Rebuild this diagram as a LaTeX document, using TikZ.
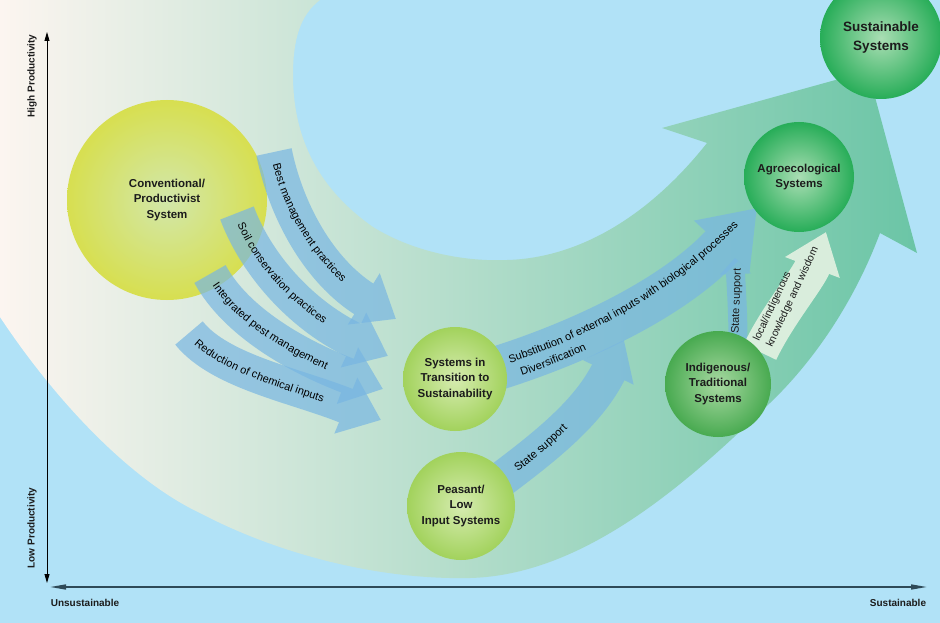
\documentclass[tikz,border=0pt]{standalone}
\usepackage{fontspec}
\setmainfont{Liberation Sans}
\usetikzlibrary{arrows.meta,decorations.text}
\definecolor{bgblue}{HTML}{B1E2F7}
\definecolor{bandL}{HTML}{FCF5F0}
\definecolor{bandM}{HTML}{DDE9DF}
\definecolor{bandR}{HTML}{6BC5A6}
\definecolor{flowblue}{HTML}{78B6E2}
\definecolor{paleflow}{HTML}{EAF4E5}
\definecolor{convO}{HTML}{D7DF50}
\definecolor{convI}{HTML}{D2E7AA}
\definecolor{lgO}{HTML}{A2D25C}
\definecolor{lgI}{HTML}{D6ECB0}
\definecolor{indO}{HTML}{48AA50}
\definecolor{indI}{HTML}{A8D9A2}
\definecolor{agO}{HTML}{27AD58}
\definecolor{agI}{HTML}{AADEB4}
\definecolor{txt}{HTML}{1C1C1C}
\definecolor{axisc}{HTML}{2E4A58}
\newcommand{\labfont}{\fontsize{11}{13}\selectfont}
\begin{document}
\begin{tikzpicture}[x=1pt,y=1pt,
  circ/.style={circle, inner sep=0pt, align=center, text=txt,
    font=\bfseries\fontsize{11.5}{15.5}\selectfont},
  flow/.style={draw=flowblue, line width=36pt, -{Triangle[length=38pt,width=58pt]}},
  axl/.style={inner sep=0pt, text=txt, font=\bfseries\fontsize{10}{12}\selectfont},
  lab/.style={inner sep=0pt, text=txt, font=\labfont}]
\useasboundingbox (0,0) rectangle (940,-623);
\clip (0,0) rectangle (940,-623);
\fill[bgblue] (0,0) rectangle (940,-623);
% big sweeping band
\shade[left color=bandL, middle color=bandM, right color=bandR]
 (0,0) -- (320,0)
 .. controls (300,-15) and (293,-40) .. (293,-75)
 .. controls (293,-140) and (320,-190) .. (373,-227)
 .. controls (410,-250) and (460,-262) .. (507,-260)
 .. controls (580,-258) and (650,-215) .. (707,-143)
 -- (662,-128) -- (868,-71) -- (917,-253) -- (880,-233)
 .. controls (855,-300) and (815,-360) .. (770,-403)
 .. controls (698,-472) and (590,-575) .. (470,-578)
 .. controls (380,-580) and (280,-555) .. (200,-513)
 .. controls (130,-480) and (55,-400) .. (0,-317) -- cycle;
% conventional system
\node[circ, minimum size=200pt, inner color=convI, outer color=convO] (conv) at (167,-200) {Conventional/\\Productivist\\System};
% coordinates of flows
\coordinate (bmS) at (274,-152); \coordinate (bmT) at (396,-319);
\coordinate (scS) at (237,-213); \coordinate (scT) at (388,-356);
\coordinate (ipS) at (210,-274); \coordinate (ipT) at (383,-389);
\coordinate (rcS) at (189,-333); \coordinate (rcT) at (381,-420);
\coordinate (subS) at (498,-368); \coordinate (subT) at (757,-208);
\coordinate (pssS) at (498,-482); \coordinate (pssT) at (624,-340);
\coordinate (issS) at (738,-342); \coordinate (issT) at (735,-258);
\coordinate (lkS) at (760,-352); \coordinate (lkT) at (826,-232);
% four practice arrows
\begin{scope}[opacity=0.7]\begin{scope}[transparency group]
\draw[flow] (bmS) .. controls (286,-211) and (319,-271) .. (bmT);
\end{scope}\end{scope}
\begin{scope}[opacity=0.7]\begin{scope}[transparency group]
\draw[flow] (scS) .. controls (258,-269) and (306,-318) .. (scT);
\end{scope}\end{scope}
\begin{scope}[opacity=0.7]\begin{scope}[transparency group]
\draw[flow] (ipS) .. controls (236,-322) and (298,-357) .. (ipT);
\end{scope}\end{scope}
\begin{scope}[opacity=0.7]\begin{scope}[transparency group]
\draw[flow] (rcS) .. controls (220,-372) and (298,-386) .. (rcT);
\end{scope}\end{scope}
% peasant state support
\begin{scope}[opacity=0.7]\begin{scope}[transparency group]
\draw[flow, line width=36pt, -{Triangle[length=36pt,width=54pt]}] (pssS) .. controls (546,-446) and (589,-412) .. (pssT);
\end{scope}\end{scope}
% substitution
\begin{scope}[opacity=0.7]\begin{scope}[transparency group]
\draw[flow, line width=44pt, -{Triangle[length=52pt,width=72pt]}] (subS) .. controls (583,-341) and (675,-297) .. (subT);
\end{scope}\end{scope}
% indigenous state support
\begin{scope}[opacity=0.7]\begin{scope}[transparency group]
\draw[flow, line width=19pt, -{Triangle[length=16pt,width=30pt]}] (issS) .. controls (738,-310) and (736,-285) .. (issT);
\end{scope}\end{scope}
% local knowledge
\begin{scope}[opacity=0.85]\begin{scope}[transparency group]
\draw[draw=paleflow, line width=36pt, -{Triangle[length=38pt,width=56pt]}] (lkS) .. controls (777,-316) and (808,-279) .. (lkT);
\end{scope}\end{scope}
% other systems
\node[circ, minimum size=104pt, inner color=lgI, outer color=lgO] (trans) at (455,-379) {Systems in\\Transition to\\Sustainability};
\node[circ, minimum size=108pt, inner color=lgI, outer color=lgO] (peas) at (461,-506) {Peasant/\\Low\\Input Systems};
\node[circ, minimum size=106pt, inner color=indI, outer color=indO] (ind) at (718,-384) {Indigenous/\\Traditional\\Systems};
\node[circ, minimum size=110pt, inner color=agI, outer color=agO] (agro) at (799,-177) {Agroecological\\Systems};
\node[circ, minimum size=122pt, inner color=agI, outer color=agO, font=\bfseries\fontsize{13.5}{19}\selectfont] (sust) at (881,-38) {Sustainable\\Systems};
% labels along arrows
\path[decorate, decoration={text along path, text={|\labfont|Best management practices}, text align={left indent=12pt}, raise=-4pt}] (bmS) .. controls (286,-211) and (319,-271) .. (bmT);
\path[decorate, decoration={text along path, text={|\labfont|Soil conservation practices}, text align={left indent=11pt}, raise=-4pt}] (scS) .. controls (258,-269) and (306,-318) .. (scT);
\path[decorate, decoration={text along path, text={|\labfont|Integrated pest management}, text align={left indent=11pt}, raise=-4pt}] (ipS) .. controls (236,-322) and (298,-357) .. (ipT);
\path[decorate, decoration={text along path, text={|\labfont|Reduction of chemical inputs}, text align={left indent=11pt}, raise=-4pt}] (rcS) .. controls (220,-372) and (298,-386) .. (rcT);
\path[decorate, decoration={text along path, text={|\labfont|State support}, text align={left indent=22pt}, raise=-4pt}] (pssS) .. controls (546,-446) and (589,-412) .. (pssT);
\path[decorate, decoration={text along path, text={|\labfont|Substitution of external inputs with biological processes}, text align={left indent=13pt}, raise=1pt}] (subS) .. controls (583,-341) and (675,-297) .. (subT);
\path[decorate, decoration={text along path, text={|\labfont|Diversification}, text align={left indent=20pt}, raise=-15pt}] (subS) .. controls (583,-341) and (675,-297) .. (subT);
\node[lab, rotate=88] (isslab) at (737,-301) {State support};
\node[lab, anchor=base west, rotate=65, font=\fontsize{10.5}{13}\selectfont] (lk1) at (759,-342) {local/indigenous};
\node[lab, anchor=base west, rotate=65, font=\fontsize{10.5}{13}\selectfont] (lk2) at (772,-348) {knowledge and wisdom};
% axes
\coordinate (yt) at (47,-32); \coordinate (yb) at (47,-583);
\coordinate (xl) at (50,-587); \coordinate (xr) at (927,-587);
\draw[black, line width=0.8pt, {Triangle[length=9pt,width=5pt]}-{Triangle[length=9pt,width=5pt]}] (yb) -- (yt);
\draw[axisc, line width=1.5pt, {Triangle[length=16pt,width=5pt]}-{Triangle[length=16pt,width=5pt]}] (xl) -- (xr);
\node[axl, rotate=90] (hp) at (32,-76) {High Productivity};
\node[axl, rotate=90] (lp) at (32,-528) {Low Productivity};
\node[axl] (us) at (85,-603) {Unsustainable};
\node[axl] (su) at (898,-603) {Sustainable};
\end{tikzpicture}
\end{document}
